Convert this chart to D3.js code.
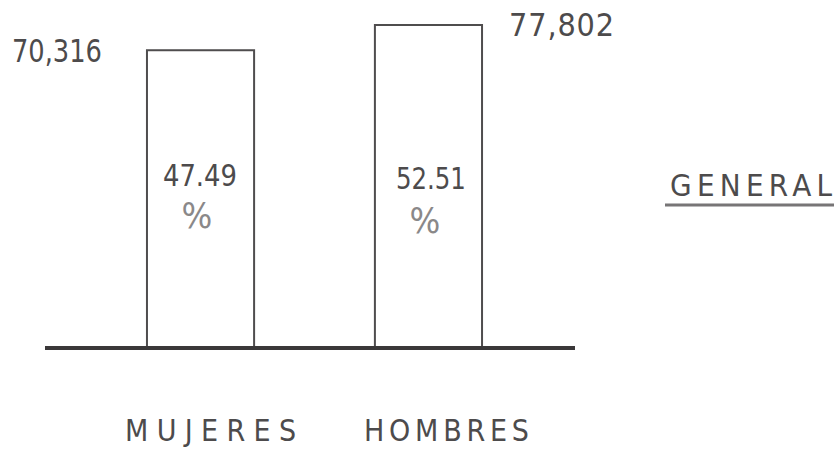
<!DOCTYPE html>
<html>
<head>
<meta charset="utf-8">
<script src="https://d3js.org/d3.v7.min.js"></script>
<style>
  body { margin: 0; background: #fff; }
  text { font-family: "DejaVu Sans Condensed", "DejaVu Sans", sans-serif; fill: #4d4b4c; }
</style>
</head>
<body>
<div id="chart"></div>
<script>
// data
var categories = ["MUJERES", "HOMBRES"];
var totals = [70316, 77802];
var totalLabels = ["70,316", "77,802"];
var percents = ["47.49", "52.51"];
var title = "GENERAL";

var svgWidth = 834;
var svgHeight = 450;
var baseY = 348;

var svg = d3.select("#chart")
  .append("svg")
  .attr("width", svgWidth)
  .attr("height", svgHeight);

// hand drawn bars are not really to zero, so the domain is stretched a bit
var x = d3.scaleBand()
  .domain(categories)
  .range([33, 596])
  .paddingInner(0.53)
  .paddingOuter(0.5);

var y = d3.scaleLinear()
  .domain([-18000, 77802])
  .range([baseY, 25]);

// bars (outline only)
svg.selectAll("rect.bar")
  .data(categories)
  .enter()
  .append("rect")
  .attr("class", "bar")
  .attr("x", d => x(d))
  .attr("y", (d, i) => y(totals[i]))
  .attr("width", x.bandwidth())
  .attr("height", (d, i) => baseY - y(totals[i]))
  .attr("fill", "none")
  .attr("stroke", "#4f4d4e")
  .attr("stroke-width", 2);

// baseline
svg.append("line")
  .attr("x1", 45)
  .attr("x2", 575)
  .attr("y1", baseY)
  .attr("y2", baseY)
  .attr("stroke", "#3a3839")
  .attr("stroke-width", 4);

// total labels: first one on the left of its bar, second on the right
svg.append("text")
  .attr("x", x(categories[0]) - 45)
  .attr("y", y(totals[0]) + 12)
  .attr("text-anchor", "end")
  .attr("font-size", 32)
  .attr("textLength", 90)
  .attr("lengthAdjust", "spacingAndGlyphs")
  .text(totalLabels[0]);

svg.append("text")
  .attr("x", x(categories[1]) + x.bandwidth() + 27)
  .attr("y", y(totals[1]) + 11)
  .attr("font-size", 32)
  .attr("textLength", 105)
  .attr("lengthAdjust", "spacing")
  .text(totalLabels[1]);

// percent numbers inside bars
var pctOffsets = [[16, 186], [21, 189]];
svg.selectAll("text.pct")
  .data(categories)
  .enter()
  .append("text")
  .attr("class", "pct")
  .attr("x", (d, i) => x(d) + pctOffsets[i][0])
  .attr("y", (d, i) => pctOffsets[i][1])
  .attr("font-size", 31)
  .attr("textLength", (d, i) => i === 0 ? 74 : 70)
  .attr("lengthAdjust", "spacingAndGlyphs")
  .text((d, i) => percents[i]);

var signOffsets = [[50, 228], [50, 233]];
svg.selectAll("text.sign")
  .data(categories)
  .enter()
  .append("text")
  .attr("class", "sign")
  .attr("x", (d, i) => x(d) + signOffsets[i][0])
  .attr("y", (d, i) => signOffsets[i][1])
  .attr("text-anchor", "middle")
  .attr("font-size", 36)
  .style("fill", "#8a8889")
  .text("%");

// category labels under the axis
var catOffsets = [10, 18];
svg.selectAll("text.cat")
  .data(categories)
  .enter()
  .append("text")
  .attr("class", "cat")
  .attr("x", (d, i) => x(d) + x.bandwidth() / 2 + catOffsets[i])
  .attr("y", 441)
  .attr("text-anchor", "middle")
  .attr("font-size", 30)
  .attr("textLength", (d, i) => i === 0 ? 171 : 165)
  .attr("lengthAdjust", "spacing")
  .text(d => d);

// title with underline
svg.append("text")
  .attr("x", 670)
  .attr("y", 196)
  .attr("font-size", 31)
  .attr("textLength", 162)
  .attr("lengthAdjust", "spacing")
  .text(title);

svg.append("line")
  .attr("x1", 665)
  .attr("x2", 834)
  .attr("y1", 205)
  .attr("y2", 205)
  .attr("stroke", "#777576")
  .attr("stroke-width", 3);
</script>
</body>
</html>
